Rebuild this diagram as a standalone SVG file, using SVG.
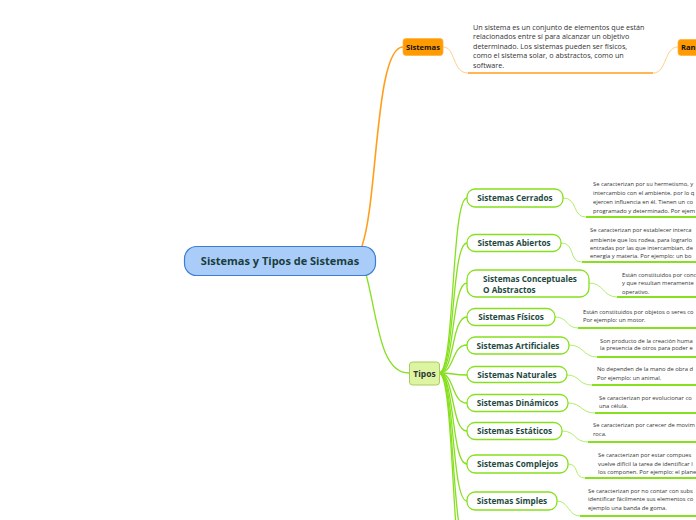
<svg xmlns="http://www.w3.org/2000/svg" width="696" height="520" viewBox="0 0 696 520">
<style>
text{font-family:"Open Sans","Noto Sans","DejaVu Sans",sans-serif}
.orange{fill:none;stroke:#ff9f1c;stroke-width:1.6}
.orangeL{fill:none;stroke:#ffcf8a;stroke-width:1}
.green{fill:none;stroke:#86e01e;stroke-width:1.3}
.greenL{fill:none;stroke:#a8ec5a;stroke-width:0.9}
.uline{fill:none;stroke:#86e01e;stroke-width:2}
.type rect{fill:#fff;stroke:#86e01e;stroke-width:1.3}
.type text{font-size:8.2px;font-weight:bold;fill:#1e4a3f;text-anchor:middle}
.type text.l{text-anchor:start}
.desc{font-size:5.8px;fill:#333}
.tdesc{font-size:7.2px;fill:#333}
</style>
<g id="connectors">
<path class="orange" d="M362,246 C378,200 375,47 403,47"/>
<path class="orangeL" d="M443,47 C456,47 452,73 468,73"/>
<path class="orange" d="M468,73 L653,73"/>
<path class="orangeL" d="M653,73 C667,73 664,47 678,47"/>
<path class="green" d="M366,274 C378,320 380,373 409,373"/>
<path class="green" d="M439,373 C455,373 451,198 467,198"/>
<path class="green" d="M439,373 C455,373 451,243 467,243"/>
<path class="green" d="M439,373 C455,373 451,283 467,283"/>
<path class="green" d="M439,373 C455,373 451,317 467,317"/>
<path class="green" d="M439,373 C455,373 451,345 467,345"/>
<path class="green" d="M439,373 C455,373 451,375 467,375"/>
<path class="green" d="M439,373 C455,373 451,403 467,403"/>
<path class="green" d="M439,373 C455,373 451,431 467,431"/>
<path class="green" d="M439,373 C455,373 451,464 467,464"/>
<path class="green" d="M439,373 C455,373 451,501 467,501"/>
<path class="green" d="M439,373 C455,373 451,545 467,545"/>
<path class="green" d="M439,373 C455,373 451,585 467,585"/>
<path class="greenL" d="M563,198 C578,198 572,217 586,217"/>
<path class="uline" d="M586,217 L696,217"/>
<path class="greenL" d="M561,243 C576,243 568,262 582,262"/>
<path class="uline" d="M582,262 L696,262"/>
<path class="greenL" d="M589,283 C604,283 603,297 617,297"/>
<path class="uline" d="M617,297 L696,297"/>
<path class="greenL" d="M555,317 C568,317 566,328 578,328"/>
<path class="uline" d="M578,328 L696,328"/>
<path class="greenL" d="M569,345 C584,345 583,357 597,357"/>
<path class="uline" d="M597,357 L696,357"/>
<path class="greenL" d="M567,375 C580,375 578,385 592,385"/>
<path class="uline" d="M592,385 L696,385"/>
<path class="greenL" d="M568,403 C582,403 581,413 595,413"/>
<path class="uline" d="M595,413 L696,413"/>
<path class="greenL" d="M562,431 C576,431 574,442 588,442"/>
<path class="uline" d="M588,442 L696,442"/>
<path class="greenL" d="M568,464 C580,464 573,478 585,478"/>
<path class="uline" d="M585,478 L696,478"/>
<path class="greenL" d="M557,501 C569,501 568,516 580,516"/>
<path class="uline" d="M580,516 L696,516"/>
</g>
<g id="central">
<rect x="184.5" y="246.5" width="191" height="29" rx="12" fill="#a9cdf8" stroke="#3a7fd5" stroke-width="1.2"/>
<text x="280" y="264.8" text-anchor="middle" font-size="11" font-weight="bold" fill="#1a3d3d">Sistemas y Tipos de Sistemas</text>
</g>
<g id="sistemas">
<rect x="403" y="38.5" width="40" height="17" rx="3" fill="#ff9b00" stroke="#ffb340" stroke-width="0.8"/>
<text x="423" y="50" text-anchor="middle" font-size="7.6" font-weight="bold" fill="#111">Sistemas</text>
</g>
<g id="sistemas-desc">
<text class="tdesc" x="473" y="29.5">Un sistema es un conjunto de elementos que están</text>
<text class="tdesc" x="473" y="39">relacionados entre sí para alcanzar un objetivo</text>
<text class="tdesc" x="473" y="48.5">determinado. Los sistemas pueden ser físicos,</text>
<text class="tdesc" x="473" y="58">como el sistema solar, o abstractos, como un</text>
<text class="tdesc" x="473" y="67.5">software.</text>
</g>
<g id="rango">
<rect x="678" y="39.5" width="30" height="16" rx="3" fill="#ff9b00" stroke="#ffb340" stroke-width="0.8"/>
<text x="681" y="50" font-size="7.6" font-weight="bold" fill="#111">Ran</text>
</g>
<g id="tipos">
<rect x="409.5" y="362" width="30" height="23" rx="3" fill="#ddf5a3" stroke="#a9cc5c" stroke-width="1"/>
<text x="424.5" y="376.5" text-anchor="middle" font-size="8.5" font-weight="bold" fill="#333">Tipos</text>
</g>
<g id="cerrados" class="type">
<rect x="467" y="189" width="96" height="18" rx="8"/>
<text x="515" y="201">Sistemas Cerrados</text>
</g>
<g id="abiertos" class="type">
<rect x="467" y="234.5" width="94" height="17" rx="8"/>
<text x="514" y="246">Sistemas Abiertos</text>
</g>
<g id="conceptuales" class="type">
<rect x="467" y="270" width="122" height="27" rx="9"/>
<text class="l" x="483" y="281.5">Sistemas Conceptuales</text>
<text class="l" x="483" y="293">O Abstractos</text>
</g>
<g id="fisicos" class="type">
<rect x="467" y="308.5" width="88" height="17" rx="8"/>
<text x="511" y="320">Sistemas Físicos</text>
</g>
<g id="artificiales" class="type">
<rect x="467" y="337" width="102" height="17" rx="8"/>
<text x="518" y="348.5">Sistemas Artificiales</text>
</g>
<g id="naturales" class="type">
<rect x="467" y="366.5" width="100" height="16" rx="8"/>
<text x="517" y="377.5">Sistemas Naturales</text>
</g>
<g id="dinamicos" class="type">
<rect x="467" y="394.5" width="101" height="17" rx="8"/>
<text x="517.5" y="406">Sistemas Dinámicos</text>
</g>
<g id="estaticos" class="type">
<rect x="467" y="422.5" width="95" height="17" rx="8"/>
<text x="514.5" y="434">Sistemas Estáticos</text>
</g>
<g id="complejos" class="type">
<rect x="467" y="455" width="101" height="18" rx="8"/>
<text x="517.5" y="467">Sistemas Complejos</text>
</g>
<g id="simples" class="type">
<rect x="467" y="492" width="90" height="18" rx="8"/>
<text x="512" y="504">Sistemas Simples</text>
</g>
<g id="descs">
<text class="desc" x="593" y="186">Se caracterizan por su hermetismo, y</text>
<text class="desc" x="593" y="195.3">intercambio con el ambiente, por lo q</text>
<text class="desc" x="593" y="204">ejercen influencia en él. Tienen un co</text>
<text class="desc" x="593" y="213">programado y determinado. Por ejem</text>
<text class="desc" x="590" y="232">Se caracterizan por establecer interca</text>
<text class="desc" x="590" y="241.5">ambiente que los rodea, para lograrlo</text>
<text class="desc" x="590" y="250.3">entradas por las que intercambian, de</text>
<text class="desc" x="590" y="258">energía y materia. Por ejemplo: un bo</text>
<text class="desc" x="622" y="277">Están constituidos por conc</text>
<text class="desc" x="622" y="285">y que resultan meramente</text>
<text class="desc" x="622" y="293.5">operativo.</text>
<text class="desc" x="583" y="313.7">Están constituidos por objetos o seres co</text>
<text class="desc" x="583" y="322">Por ejemplo: un motor.</text>
<text class="desc" x="600" y="342.7">Son producto de la creación huma</text>
<text class="desc" x="600" y="350.3">la presencia de otros para poder e</text>
<text class="desc" x="597" y="371">No dependen de la mano de obra d</text>
<text class="desc" x="597" y="380.3">Por ejemplo: un animal.</text>
<text class="desc" x="599" y="399.7">Se caracterizan por evolucionar co</text>
<text class="desc" x="599" y="407.7">una célula.</text>
<text class="desc" x="593" y="427">Se caracterizan por carecer de movim</text>
<text class="desc" x="593" y="436">roca.</text>
<text class="desc" x="598" y="457">Se caracterizan por estar compues</text>
<text class="desc" x="598" y="466">vuelve difícil la tarea de identificar l</text>
<text class="desc" x="598" y="474.3">los componen. Por ejemplo: el plane</text>
<text class="desc" x="588" y="492.7">Se caracterizan por no contar con subs</text>
<text class="desc" x="588" y="501.3">identificar fácilmente sus elementos co</text>
<text class="desc" x="588" y="510.3">ejemplo una banda de goma.</text>
</g>
</svg>
